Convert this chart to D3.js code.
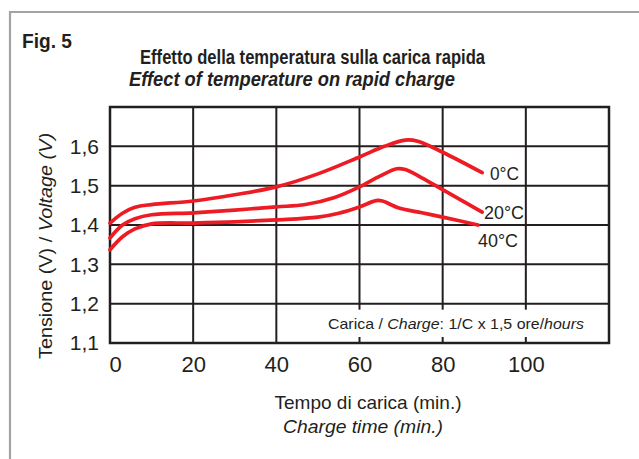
<!DOCTYPE html>
<html>
<head>
<meta charset="utf-8">
<script src="https://cdn.jsdelivr.net/npm/d3@7"></script>
<style>
  body { margin: 0; background: #fff; }
  text { font-family: "Liberation Sans", Arial, sans-serif; fill: #231f20; }
</style>
</head>
<body>
<div id="vis"></div>
<script>
// tick values
var xTicks = [0, 20, 40, 60, 80, 100];
var yTicks = [1.1, 1.2, 1.3, 1.4, 1.5, 1.6];

// curves: [minutes, volts]
var temp0 = [[0,1.405],[3,1.43],[6,1.445],[10,1.452],[20,1.461],[30,1.477],[40,1.497],[50,1.53],[60,1.573],[66,1.60],[71,1.616],[74,1.613],[80,1.585],[89.5,1.533]];
var temp20 = [[0,1.367],[3,1.40],[6,1.416],[10,1.426],[20,1.431],[30,1.438],[40,1.446],[47,1.452],[54,1.47],[60,1.497],[65,1.525],[69,1.543],[71,1.541],[75,1.52],[80,1.49],[89.5,1.433]];
var temp40 = [[0,1.337],[3,1.37],[6,1.39],[10,1.403],[20,1.405],[30,1.408],[40,1.413],[50,1.42],[55,1.43],[60,1.446],[64,1.462],[65.5,1.461],[69.5,1.443],[75,1.431],[80,1.42],[88.5,1.40]];

var series = [
  {name: "0°C", data: temp0, lx: 490, ly: 180, w: 29},
  {name: "20°C", data: temp20, lx: 484, ly: 219, w: 40},
  {name: "40°C", data: temp40, lx: 478, ly: 247, w: 40}
];

var W = 639, H = 459;
var svg = d3.select("#vis").append("svg").attr("width", W).attr("height", H);

// outer gray frame (runs off the right / bottom)
svg.append("path")
  .attr("d", "M10,470 L10,12 L650,12")
  .attr("fill", "none").attr("stroke", "#a3a3a3").attr("stroke-width", 2.2);

svg.append("text").attr("x", 22).attr("y", 48)
  .attr("font-size", 21).attr("font-weight", "bold")
  .attr("textLength", 50).attr("lengthAdjust", "spacingAndGlyphs")
  .text("Fig. 5");
svg.append("text").attr("x", 140).attr("y", 64)
  .attr("font-size", 20).attr("font-weight", "bold")
  .attr("textLength", 345).attr("lengthAdjust", "spacingAndGlyphs")
  .text("Effetto della temperatura sulla carica rapida");
svg.append("text").attr("x", 129).attr("y", 86)
  .attr("font-size", 20).attr("font-weight", "bold").attr("font-style", "italic")
  .attr("textLength", 326).attr("lengthAdjust", "spacingAndGlyphs")
  .text("Effect of temperature on rapid charge");

var pl = 110, pr = 609, pt = 107, pb = 343;

var x = d3.scaleLinear().domain([0, 120]).range([pl, pr]);
var y = d3.scaleLinear().domain([1.1, 1.7]).range([pb, pt]);

// grid
var g = svg.append("g");
g.selectAll(".vg").data(xTicks.slice(1)).join("line")
  .attr("x1", d => x(d)).attr("x2", d => x(d))
  .attr("y1", pt).attr("y2", pb)
  .attr("stroke", "#231f20").attr("stroke-width", 2);
g.selectAll(".hg").data(yTicks.slice(1)).join("line")
  .attr("x1", pl).attr("x2", pr)
  .attr("y1", d => y(d)).attr("y2", d => y(d))
  .attr("stroke", "#231f20").attr("stroke-width", 2);

// note box hides the lower grid segment
svg.append("rect").attr("x", 322).attr("y", y(1.2) + 6)
  .attr("width", 280).attr("height", pb - y(1.2) - 12)
  .attr("fill", "#fff");
svg.append("text").attr("x", 328).attr("y", 329)
  .attr("font-size", 15)
  .attr("textLength", 256).attr("lengthAdjust", "spacingAndGlyphs")
  .call(t => {
    t.append("tspan").text("Carica / ");
    t.append("tspan").attr("font-style", "italic").text("Charge");
    t.append("tspan").text(": 1/C x 1,5 ore/");
    t.append("tspan").attr("font-style", "italic").text("hours");
  });

svg.append("rect").attr("x", pl).attr("y", pt)
  .attr("width", pr - pl).attr("height", pb - pt)
  .attr("fill", "none").attr("stroke", "#231f20").attr("stroke-width", 2.5);

// axes labels
var xAxis = svg.append("g").attr("transform", "translate(0," + pb + ")")
  .call(d3.axisBottom(x).tickValues(xTicks).tickSize(0).tickPadding(13).tickFormat(d3.format("d")));
xAxis.select(".domain").remove();
xAxis.selectAll("text").attr("font-size", 22).attr("font-family", null).attr("fill", null)
  .attr("text-anchor", d => d === 0 ? "start" : "middle")
  .attr("dx", d => d === 0 ? -1 : 0);

var yAxis = svg.append("g").attr("transform", "translate(" + pl + ",0)")
  .call(d3.axisLeft(y).tickValues(yTicks).tickSize(0).tickPadding(11)
    .tickFormat(d => d3.format(".1f")(d).replace(".", ",")));
yAxis.select(".domain").remove();
yAxis.selectAll("text").attr("font-size", 21).attr("font-family", null).attr("fill", null);

svg.append("text").attr("x", 368).attr("y", 409).attr("text-anchor", "middle")
  .attr("font-size", 19).attr("textLength", 187).attr("lengthAdjust", "spacingAndGlyphs")
  .text("Tempo di carica (min.)");
svg.append("text").attr("x", 363).attr("y", 433).attr("text-anchor", "middle")
  .attr("font-size", 19).attr("font-style", "italic")
  .attr("textLength", 160).attr("lengthAdjust", "spacingAndGlyphs")
  .text("Charge time (min.)");

svg.append("text").attr("transform", "translate(52,246) rotate(-90)")
  .attr("text-anchor", "middle").attr("font-size", 19)
  .attr("textLength", 226).attr("lengthAdjust", "spacingAndGlyphs")
  .call(t => {
    t.append("tspan").text("Tensione (V) / ");
    t.append("tspan").attr("font-style", "italic").text("Voltage (V)");
  });

// curves
var line = d3.line().x(d => x(d[0])).y(d => y(d[1])).curve(d3.curveCatmullRom.alpha(0.5));
svg.selectAll(".curve").data(series).join("path")
  .attr("d", d => line(d.data))
  .attr("fill", "none").attr("stroke", "#ed1c24").attr("stroke-width", 3.7)
  .attr("stroke-linecap", "round");

svg.selectAll(".lab").data(series).join("text")
  .attr("x", d => d.lx).attr("y", d => d.ly)
  .attr("font-size", 19).attr("textLength", d => d.w).attr("lengthAdjust", "spacingAndGlyphs")
  .text(d => d.name);
</script>
</body>
</html>
